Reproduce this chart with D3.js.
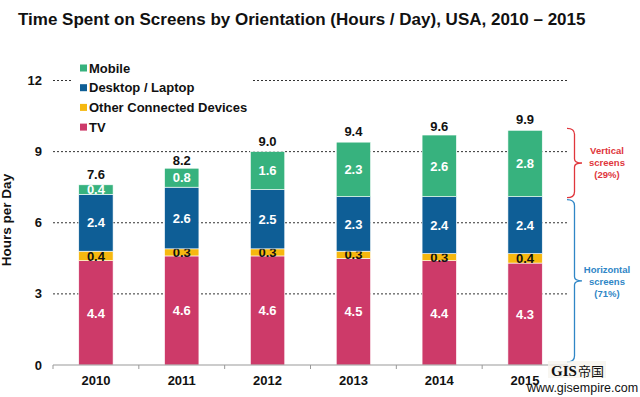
<!DOCTYPE html>
<html>
<head>
<meta charset="utf-8">
<script src="https://d3js.org/d3.v7.min.js"></script>
<style>
  body { margin: 0; background: #fff; }
  text { font-family: "Liberation Sans", Arial, sans-serif; font-weight: bold; }
</style>
</head>
<body>
<div id="chart"></div>
<script>
// data
var years = ["2010", "2011", "2012", "2013", "2014", "2015"];
var tv = [4.4, 4.6, 4.6, 4.5, 4.4, 4.3];
var other = [0.4, 0.3, 0.3, 0.3, 0.3, 0.4];
var desktop = [2.4, 2.6, 2.5, 2.3, 2.4, 2.4];
var mobile = [0.4, 0.8, 1.6, 2.3, 2.6, 2.8];
var totals = [7.6, 8.2, 9.0, 9.4, 9.6, 9.9];
var yTicks = [0, 3, 6, 9, 12];
var seriesNames = ["TV", "Other Connected Devices", "Desktop / Laptop", "Mobile"];
var colors = ["#cd3a69", "#f6b80f", "#0e5e96", "#37b27e"];

var W = 640, H = 397;
var svg = d3.select("#chart").append("svg").attr("width", W).attr("height", H);

var x = d3.scaleBand().domain(years).range([53, 568]).paddingInner(0.6).paddingOuter(0.3);
var y = d3.scaleLinear().domain([0, 12]).range([365, 80.5]);

// build stack table
var rows = years.map(function (yr, i) {
  return { year: yr, TV: tv[i], "Other Connected Devices": other[i], "Desktop / Laptop": desktop[i], Mobile: mobile[i] };
});
var stack = d3.stack().keys(seriesNames)(rows);

// title
svg.append("text").attr("x", 18).attr("y", 25)
  .style("font-size", "17px").attr("fill", "#111")
  .text("Time Spent on Screens by Orientation (Hours / Day), USA, 2010 \u2013 2015");

// gridlines
svg.append("g").selectAll("line").data(yTicks.slice(1)).enter().append("line")
  .attr("x1", 53).attr("x2", 568)
  .attr("y1", function (d) { return y(d); }).attr("y2", function (d) { return y(d); })
  .attr("stroke", "#333").attr("stroke-width", 1).attr("stroke-dasharray", "2,2");

// y tick labels
svg.append("g").selectAll("text").data(yTicks).enter().append("text")
  .attr("x", 42).attr("y", function (d) { return y(d); }).attr("dy", "0.35em")
  .attr("text-anchor", "end").style("font-size", "13px").attr("fill", "#111")
  .text(function (d) { return d; });

// y axis title
svg.append("text").attr("transform", "translate(11,220) rotate(-90)")
  .attr("text-anchor", "middle").style("font-size", "13.5px").attr("fill", "#111")
  .text("Hours per Day");

// bars
var layers = svg.append("g").selectAll("g").data(stack).enter().append("g")
  .attr("fill", function (d, i) { return colors[i]; });
layers.selectAll("rect").data(function (d) { return d; }).enter().append("rect")
  .attr("x", function (d) { return x(d.data.year); })
  .attr("width", x.bandwidth())
  .attr("y", function (d) { return y(d[1]); })
  .attr("height", function (d) { return y(d[0]) - y(d[1]); })
  .attr("stroke", "#fff").attr("stroke-width", 0.6);

// segment labels
layers.selectAll("text").data(function (d) { return d.map(function (p) { p.key = d.key; return p; }); })
  .enter().append("text")
  .attr("x", function (d) { return x(d.data.year) + x.bandwidth() / 2; })
  .attr("y", function (d) { return (y(d[0]) + y(d[1])) / 2; })
  .attr("dy", "0.36em").attr("text-anchor", "middle")
  .style("font-size", "13px")
  .attr("fill", function (d) { return d.key === "Other Connected Devices" ? "#111" : "#fff"; })
  .text(function (d) { return (d[1] - d[0]).toFixed(1); });

// totals
svg.append("g").selectAll("text").data(years).enter().append("text")
  .attr("x", function (d) { return x(d) + x.bandwidth() / 2; })
  .attr("y", function (d, i) { return y(totals[i]) - 6; })
  .attr("text-anchor", "middle").style("font-size", "13px").attr("fill", "#111")
  .text(function (d, i) { return totals[i].toFixed(1); });

// x axis
var xa = svg.append("g");
xa.append("line").attr("x1", 53).attr("x2", 568).attr("y1", 365).attr("y2", 365)
  .attr("stroke", "#999").attr("stroke-width", 1.2);
xa.selectAll("line.tick").data(d3.range(years.length + 1)).enter().append("line")
  .attr("class", "tick")
  .attr("x1", function (i) { return 53 + i * (515 / years.length); })
  .attr("x2", function (i) { return 53 + i * (515 / years.length); })
  .attr("y1", 365).attr("y2", 369).attr("stroke", "#999");
xa.selectAll("text").data(years).enter().append("text")
  .attr("x", function (d) { return x(d) + x.bandwidth() / 2; })
  .attr("y", 385).attr("text-anchor", "middle").style("font-size", "13px").attr("fill", "#111")
  .text(function (d) { return d; });

// legend (white box hides gridline)
svg.append("rect").attr("x", 72).attr("y", 60).attr("width", 180).attr("height", 76).attr("fill", "#fff");
var legendOrder = ["Mobile", "Desktop / Laptop", "Other Connected Devices", "TV"];
var lg = svg.append("g").selectAll("g").data(legendOrder).enter().append("g")
  .attr("transform", function (d, i) { return "translate(80," + (68 + i * 19.7) + ")"; });
lg.append("rect").attr("x", 0).attr("y", -3.5).attr("width", 7).attr("height", 7)
  .attr("fill", function (d) { return colors[seriesNames.indexOf(d)]; });
lg.append("text").attr("x", 9).attr("dy", "0.36em").style("font-size", "13px").attr("fill", "#111")
  .text(function (d) { return d; });

// braces
function brace(top, bottom, xl, xr) {
  var mid = (top + bottom) / 2, xm = (xl + xr) / 2;
  return "M" + xl + "," + top + " Q" + xm + "," + top + " " + xm + "," + (top + 6) +
    " L" + xm + "," + (mid - 4) + " Q" + xm + "," + mid + " " + xr + "," + mid +
    " Q" + xm + "," + mid + " " + xm + "," + (mid + 4) +
    " L" + xm + "," + (bottom - 6) + " Q" + xm + "," + bottom + " " + xl + "," + bottom;
}
svg.append("path").attr("d", brace(y(totals[5]) - 2, y(tv[5] + other[5] + desktop[5]) + 1, 567, 582))
  .attr("fill", "none").attr("stroke", "#e0363c").attr("stroke-width", 1.3);
svg.append("path").attr("d", brace(y(tv[5] + other[5] + desktop[5]) + 3, 362, 567, 582))
  .attr("fill", "none").attr("stroke", "#2f86c6").attr("stroke-width", 1.3);

svg.append("g").selectAll("text").data(["Vertical", "screens", "(29%)"]).enter().append("text")
  .attr("x", 607).attr("y", function (d, i) { return 154 + i * 12; })
  .attr("text-anchor", "middle").style("font-size", "9.5px").attr("fill", "#e0363c")
  .text(function (d) { return d; });
svg.append("g").selectAll("text").data(["Horizontal", "screens", "(71%)"]).enter().append("text")
  .attr("x", 607).attr("y", function (d, i) { return 273 + i * 12; })
  .attr("text-anchor", "middle").style("font-size", "9.5px").attr("fill", "#2f86c6")
  .text(function (d) { return d; });

// watermark (overlaps the 2015 label, as in the reference)
svg.append("rect").attr("x", 548).attr("y", 361).attr("width", 58).attr("height", 17).attr("fill", "#f6f4ee").attr("opacity", 0.8);
svg.append("text").attr("x", 551).attr("y", 376).style("font-family", "'Liberation Serif', serif")
  .style("font-size", "15px").attr("fill", "#111").text("GIS");
svg.append("text").attr("x", 578).attr("y", 376).style("font-family", "'Noto Sans CJK SC', sans-serif")
  .style("font-weight", "normal").style("font-size", "13px").attr("fill", "#111").text("帝国");
svg.append("text").attr("x", 527).attr("y", 392).style("font-weight", "normal")
  .style("font-size", "12.5px").attr("fill", "#111").text("www.gisempire.com");
</script>
</body>
</html>
